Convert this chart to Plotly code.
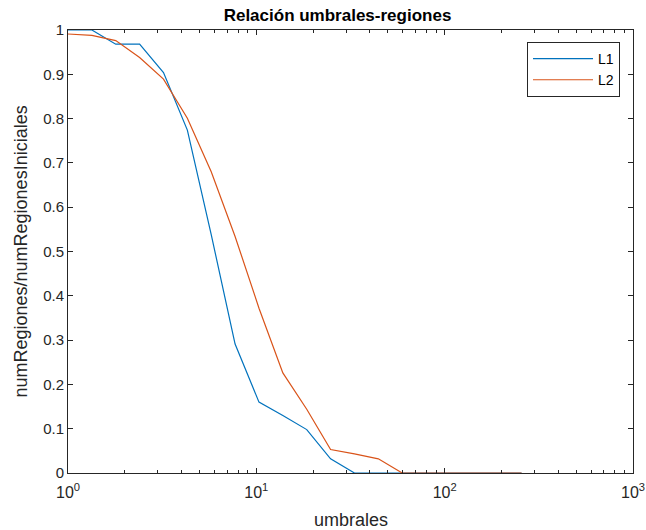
import plotly.graph_objects as go

umbrales = [1.0, 1.339, 1.793, 2.400, 3.214, 4.303, 5.761, 7.713, 10.33, 13.83,
            18.52, 24.79, 33.19, 44.44, 59.50, 79.67, 106.7, 142.8, 191.2, 256.0]
L1 = [1.0, 1.0, 0.968, 0.968, 0.904, 0.774, 0.538, 0.291, 0.160, 0.130,
      0.098, 0.032, 0.0, 0.0, 0.0, 0.0, 0.0, 0.0, 0.0, 0.0]
L2 = [0.991, 0.988, 0.976, 0.938, 0.889, 0.801, 0.680, 0.534, 0.372, 0.226,
      0.144, 0.053, 0.043, 0.032, 0.0, 0.0, 0.0, 0.0, 0.0, 0.0]
xtick_vals = [1, 10, 100, 1000]
xtick_text = ["10<sup>0</sup>", "10<sup>1</sup>", "10<sup>2</sup>", "10<sup>3</sup>"]
ytick_vals = [0, 0.1, 0.2, 0.3, 0.4, 0.5, 0.6, 0.7, 0.8, 0.9, 1]
ytick_text = ["0", "0.1", "0.2", "0.3", "0.4", "0.5", "0.6", "0.7", "0.8", "0.9", "1"]

axcol = "#262626"
font = "Liberation Sans, Arial, sans-serif"

fig = go.Figure()
fig.add_trace(go.Scatter(x=umbrales, y=L1, mode="lines", name="L1",
                         line=dict(color="#0072BD", width=1.2)))
fig.add_trace(go.Scatter(x=umbrales, y=L2, mode="lines", name="L2",
                         line=dict(color="#D95319", width=1.2)))

fig.update_layout(
    width=646, height=530,
    margin=dict(l=68, r=13, t=30, b=57),
    paper_bgcolor="white", plot_bgcolor="white",
    font=dict(family=font, size=15, color=axcol),
    title=dict(text="<b>Relación umbrales-regiones</b>", x=337.5 / 646, xanchor="center",
               y=1 - 15 / 530, yanchor="middle", font=dict(size=17, color="black")),
    showlegend=True,
    legend=dict(x=0.977, xanchor="right", y=0.973, yanchor="top",
                bordercolor="#262626", borderwidth=1, bgcolor="white",
                font=dict(size=14, color="black"), tracegroupgap=0,
                itemwidth=60),
    xaxis=dict(type="log", range=[0, 3], tickvals=xtick_vals, ticktext=xtick_text,
               ticks="inside", ticklen=5, tickcolor=axcol, showline=True,
               linecolor=axcol, linewidth=1, mirror="ticks", showgrid=False,
               zeroline=False, tickfont=dict(size=16, color=axcol), automargin=False,
               ticklabelstandoff=5,
               minor=dict(ticks="inside", ticklen=3, tickcolor=axcol, dtick="D1",
                          showgrid=False)),
    yaxis=dict(range=[0, 1], tickvals=ytick_vals, ticktext=ytick_text,
               ticks="inside", ticklen=5, tickcolor=axcol, showline=True,
               linecolor=axcol, linewidth=1, mirror="ticks", showgrid=False,
               zeroline=False, tickfont=dict(size=15, color=axcol), automargin=False),
    annotations=[
        dict(text="numRegiones/numRegionesIniciales", xref="paper", yref="paper",
             x=(20 - 68) / 565, y=0.5, xanchor="center", yanchor="middle",
             textangle=-90, showarrow=False, font=dict(size=18, color=axcol)),
        dict(text="umbrales", xref="paper", yref="paper",
             x=0.5, y=(473 - 520) / 443, xanchor="center", yanchor="middle",
             showarrow=False, font=dict(size=18, color=axcol)),
    ],
)

fig.write_html("out.html")
